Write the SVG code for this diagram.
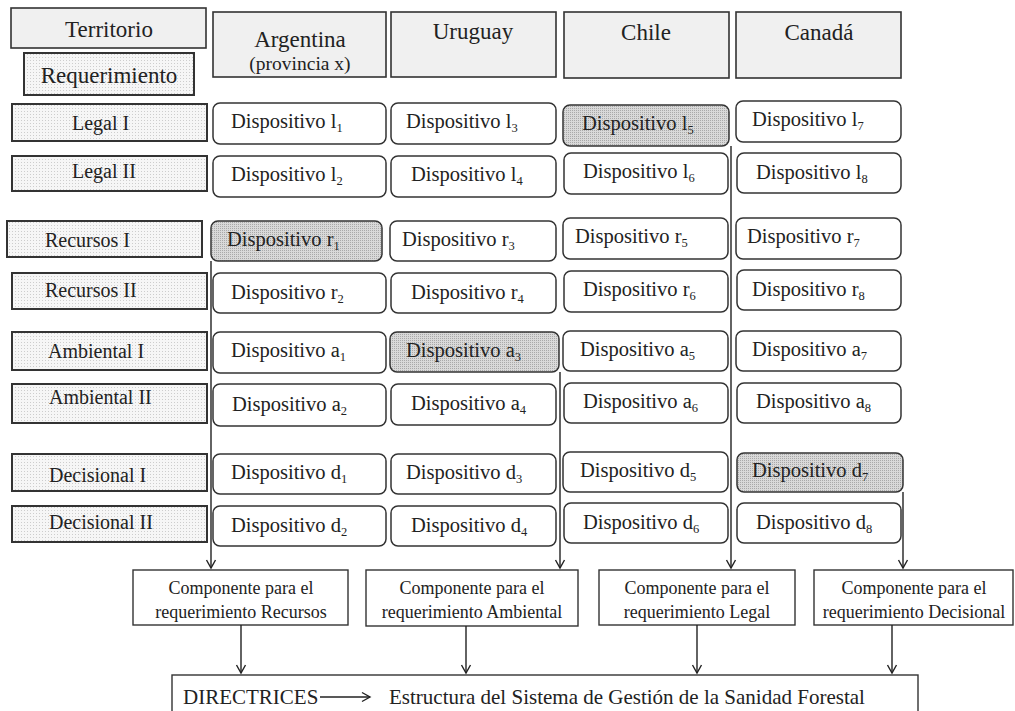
<svg xmlns="http://www.w3.org/2000/svg" width="1015" height="711" viewBox="0 0 1015 711" font-family="'Liberation Serif','Times New Roman',serif">
<defs>
<pattern id="dots" width="3" height="3" patternUnits="userSpaceOnUse"><rect width="3" height="3" fill="#f6f6f6"/><rect width="1" height="1" fill="#cdcdcd"/></pattern>
<pattern id="dotsDark" width="2" height="2" patternUnits="userSpaceOnUse"><rect width="2" height="2" fill="#d9d9d9"/><rect width="1" height="1" fill="#a9a9a9"/></pattern>
<marker id="arr" viewBox="-1 -6 11 12" refX="8" refY="0" markerWidth="11" markerHeight="12" markerUnits="userSpaceOnUse" orient="auto" overflow="visible"><path d="M0,-4.5 L8,0 L0,4.5" fill="none" stroke="#222" stroke-width="1.4"/></marker>
</defs>
<style>
text{font-family:"Liberation Serif","Times New Roman",serif;fill:#222}
.hdr{fill:#f0f0f0;stroke:#333;stroke-width:1.6}
.lab{fill:url(#dots);stroke:#333;stroke-width:2}
.dev{fill:#fff;stroke:#333;stroke-width:1.5}
.hi{fill:url(#dotsDark);stroke:#333;stroke-width:1.5}
.comp{fill:#fff;stroke:#333;stroke-width:1.4}
.ht{font-size:23px;text-anchor:middle}
.lt{font-size:20px}
.dt{font-size:20.5px}
.sub{font-size:12.5px}
.ct{font-size:18px;text-anchor:middle}
.bt{font-size:21px}
.con{fill:none;stroke:#222;stroke-width:1.4}
</style>
<rect width="1015" height="711" fill="#fff"/>

<g id="hdr-territorio"><rect class="hdr" x="11" y="8" width="195" height="40"/><text class="ht" x="109" y="37">Territorio</text></g>
<g id="hdr-requerimiento"><rect class="lab" x="24" y="53" width="170" height="42"/><text class="ht" x="109" y="83">Requerimiento</text></g>
<g id="hdr-argentina"><rect class="hdr" x="213" y="12" width="173" height="65"/><text class="ht" x="300" y="47">Argentina</text><text class="ht" x="300" y="70" style="font-size:19.5px">(provincia x)</text></g>
<g id="hdr-uruguay"><rect class="hdr" x="391" y="12" width="165" height="65"/><text class="ht" x="473" y="39">Uruguay</text></g>
<g id="hdr-chile"><rect class="hdr" x="564" y="12" width="165" height="66"/><text class="ht" x="646" y="40">Chile</text></g>
<g id="hdr-canada"><rect class="hdr" x="736" y="12" width="165" height="66"/><text class="ht" x="819" y="40">Canadá</text></g>

<g id="lab-legal1"><rect class="lab" x="12" y="104" width="195" height="37"/><text class="lt" x="72" y="130">Legal I</text></g>
<g id="lab-legal2"><rect class="lab" x="12" y="156" width="195" height="35"/><text class="lt" x="72" y="178">Legal II</text></g>
<g id="lab-recursos1"><rect class="lab" x="7" y="221" width="195" height="36"/><text class="lt" x="45" y="247">Recursos I</text></g>
<g id="lab-recursos2"><rect class="lab" x="12" y="273" width="195" height="36"/><text class="lt" x="45" y="297">Recursos II</text></g>
<g id="lab-ambiental1"><rect class="lab" x="12" y="332" width="195" height="38"/><text class="lt" x="48" y="358">Ambiental I</text></g>
<g id="lab-ambiental2"><rect class="lab" x="12" y="384" width="195" height="39"/><text class="lt" x="49" y="404">Ambiental II</text></g>
<g id="lab-decisional1"><rect class="lab" x="12" y="454" width="195" height="37"/><text class="lt" x="49" y="482">Decisional I</text></g>
<g id="lab-decisional2"><rect class="lab" x="12" y="506" width="195" height="36"/><text class="lt" x="49" y="529">Decisional II</text></g>

<g id="dev-l1"><rect class="dev" x="213" y="103" width="173" height="41" rx="7"/><text class="dt" x="231" y="128">Dispositivo l<tspan class="sub" dy="4">1</tspan></text></g>
<g id="dev-l2"><rect class="dev" x="213" y="156" width="173" height="41" rx="7"/><text class="dt" x="231" y="181">Dispositivo l<tspan class="sub" dy="4">2</tspan></text></g>
<g id="dev-r1"><rect class="hi" x="211" y="221" width="171" height="40" rx="7"/><text class="dt" x="227" y="246">Dispositivo r<tspan class="sub" dy="4">1</tspan></text></g>
<g id="dev-r2"><rect class="dev" x="213" y="273" width="173" height="40" rx="7"/><text class="dt" x="231" y="299">Dispositivo r<tspan class="sub" dy="4">2</tspan></text></g>
<g id="dev-a1"><rect class="dev" x="213" y="332" width="173" height="41" rx="7"/><text class="dt" x="231" y="357">Dispositivo a<tspan class="sub" dy="4">1</tspan></text></g>
<g id="dev-a2"><rect class="dev" x="213" y="384" width="173" height="42" rx="7"/><text class="dt" x="232" y="411">Dispositivo a<tspan class="sub" dy="4">2</tspan></text></g>
<g id="dev-d1"><rect class="dev" x="213" y="454" width="173" height="40" rx="7"/><text class="dt" x="231" y="479">Dispositivo d<tspan class="sub" dy="4">1</tspan></text></g>
<g id="dev-d2"><rect class="dev" x="213" y="506" width="173" height="40" rx="7"/><text class="dt" x="231" y="532">Dispositivo d<tspan class="sub" dy="4">2</tspan></text></g>

<g id="dev-l3"><rect class="dev" x="391" y="103" width="165" height="41" rx="7"/><text class="dt" x="406" y="128">Dispositivo l<tspan class="sub" dy="4">3</tspan></text></g>
<g id="dev-l4"><rect class="dev" x="391" y="156" width="165" height="41" rx="7"/><text class="dt" x="411" y="181">Dispositivo l<tspan class="sub" dy="4">4</tspan></text></g>
<g id="dev-r3"><rect class="dev" x="390" y="221" width="166" height="40" rx="7"/><text class="dt" x="402" y="246">Dispositivo r<tspan class="sub" dy="4">3</tspan></text></g>
<g id="dev-r4"><rect class="dev" x="391" y="273" width="165" height="40" rx="7"/><text class="dt" x="411" y="299">Dispositivo r<tspan class="sub" dy="4">4</tspan></text></g>
<g id="dev-a3"><rect class="hi" x="390" y="332" width="169" height="40" rx="7"/><text class="dt" x="406" y="357">Dispositivo a<tspan class="sub" dy="4">3</tspan></text></g>
<g id="dev-a4"><rect class="dev" x="391" y="384" width="165" height="41" rx="7"/><text class="dt" x="411" y="410">Dispositivo a<tspan class="sub" dy="4">4</tspan></text></g>
<g id="dev-d3"><rect class="dev" x="391" y="454" width="165" height="40" rx="7"/><text class="dt" x="406" y="479">Dispositivo d<tspan class="sub" dy="4">3</tspan></text></g>
<g id="dev-d4"><rect class="dev" x="391" y="506" width="165" height="40" rx="7"/><text class="dt" x="411" y="532">Dispositivo d<tspan class="sub" dy="4">4</tspan></text></g>

<g id="dev-l5"><rect class="hi" x="563" y="105" width="166" height="41" rx="7"/><text class="dt" x="582" y="130">Dispositivo l<tspan class="sub" dy="4">5</tspan></text></g>
<g id="dev-l6"><rect class="dev" x="564" y="153" width="164" height="41" rx="7"/><text class="dt" x="583" y="178">Dispositivo l<tspan class="sub" dy="4">6</tspan></text></g>
<g id="dev-r5"><rect class="dev" x="563" y="218" width="165" height="41" rx="7"/><text class="dt" x="575" y="243">Dispositivo r<tspan class="sub" dy="4">5</tspan></text></g>
<g id="dev-r6"><rect class="dev" x="564" y="271" width="164" height="41" rx="7"/><text class="dt" x="583" y="296">Dispositivo r<tspan class="sub" dy="4">6</tspan></text></g>
<g id="dev-a5"><rect class="dev" x="563" y="331" width="165" height="40" rx="7"/><text class="dt" x="580" y="356">Dispositivo a<tspan class="sub" dy="4">5</tspan></text></g>
<g id="dev-a6"><rect class="dev" x="564" y="383" width="164" height="40" rx="7"/><text class="dt" x="583" y="408">Dispositivo a<tspan class="sub" dy="4">6</tspan></text></g>
<g id="dev-d5"><rect class="dev" x="563" y="452" width="165" height="40" rx="7"/><text class="dt" x="580" y="477">Dispositivo d<tspan class="sub" dy="4">5</tspan></text></g>
<g id="dev-d6"><rect class="dev" x="564" y="503" width="164" height="40" rx="7"/><text class="dt" x="583" y="529">Dispositivo d<tspan class="sub" dy="4">6</tspan></text></g>

<g id="dev-l7"><rect class="dev" x="736" y="101" width="165" height="41" rx="7"/><text class="dt" x="752" y="126">Dispositivo l<tspan class="sub" dy="4">7</tspan></text></g>
<g id="dev-l8"><rect class="dev" x="737" y="153" width="164" height="40" rx="7"/><text class="dt" x="756" y="179">Dispositivo l<tspan class="sub" dy="4">8</tspan></text></g>
<g id="dev-r7"><rect class="dev" x="736" y="218" width="165" height="41" rx="7"/><text class="dt" x="747" y="243">Dispositivo r<tspan class="sub" dy="4">7</tspan></text></g>
<g id="dev-r8"><rect class="dev" x="737" y="270" width="164" height="40" rx="7"/><text class="dt" x="752" y="296">Dispositivo r<tspan class="sub" dy="4">8</tspan></text></g>
<g id="dev-a7"><rect class="dev" x="736" y="331" width="165" height="40" rx="7"/><text class="dt" x="752" y="356">Dispositivo a<tspan class="sub" dy="4">7</tspan></text></g>
<g id="dev-a8"><rect class="dev" x="737" y="383" width="164" height="40" rx="7"/><text class="dt" x="756" y="408">Dispositivo a<tspan class="sub" dy="4">8</tspan></text></g>
<g id="dev-d7"><rect class="hi" x="737" y="453" width="166" height="39" rx="7"/><text class="dt" x="752" y="477">Dispositivo d<tspan class="sub" dy="4">7</tspan></text></g>
<g id="dev-d8"><rect class="dev" x="737" y="503" width="164" height="40" rx="7"/><text class="dt" x="756" y="529">Dispositivo d<tspan class="sub" dy="4">8</tspan></text></g>

<g id="comp-recursos"><rect class="comp" x="133" y="570" width="215" height="55"/><text class="ct" x="241" y="594">Componente para el</text><text class="ct" x="241" y="618">requerimiento Recursos</text></g>
<g id="comp-ambiental"><rect class="comp" x="366" y="570" width="212" height="56"/><text class="ct" x="472" y="594">Componente para el</text><text class="ct" x="472" y="618">requerimiento Ambiental</text></g>
<g id="comp-legal"><rect class="comp" x="599" y="570" width="196" height="55"/><text class="ct" x="697" y="594">Componente para el</text><text class="ct" x="697" y="618">requerimiento Legal</text></g>
<g id="comp-decisional"><rect class="comp" x="814" y="570" width="199" height="55"/><text class="ct" x="914" y="594">Componente para el</text><text class="ct" x="914" y="618">requerimiento Decisional</text></g>

<g id="directrices"><rect class="comp" x="172" y="675" width="746" height="50"/><text class="bt" x="183" y="704">DIRECTRICES</text><text class="bt" x="389" y="704">Estructura del Sistema de Gestión de la Sanidad Forestal</text></g>

<g id="connectors">
<path class="con" d="M211,261 V568" marker-end="url(#arr)"/>
<path class="con" d="M560,372 V568" marker-end="url(#arr)"/>
<path class="con" d="M731,146 V568" marker-end="url(#arr)"/>
<path class="con" d="M903,492 V568" marker-end="url(#arr)"/>
<path class="con" d="M241,625 V673" marker-end="url(#arr)"/>
<path class="con" d="M466,626 V673" marker-end="url(#arr)"/>
<path class="con" d="M697,625 V673" marker-end="url(#arr)"/>
<path class="con" d="M892,625 V673" marker-end="url(#arr)"/>
<path class="con" d="M320,697 H370" marker-end="url(#arr)"/>
</g>
</svg>
